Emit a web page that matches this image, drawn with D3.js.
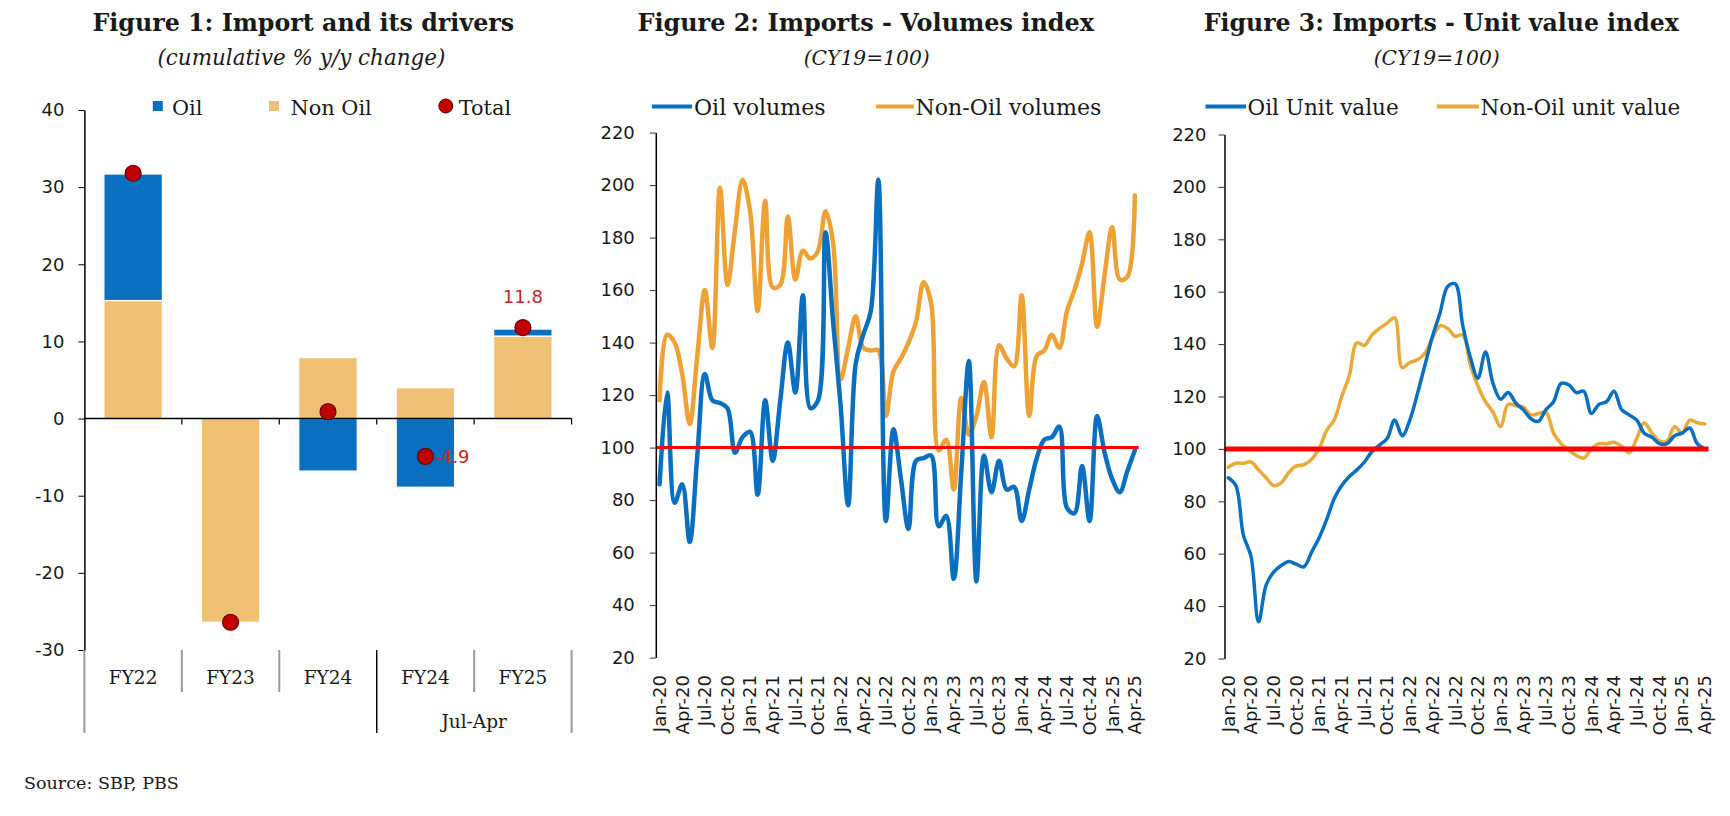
<!DOCTYPE html>
<html><head><meta charset="utf-8">
<script src="https://cdn.jsdelivr.net/npm/d3@7"></script>
<style>body{margin:0;background:#fff} svg{display:block}</style>
</head><body>
<svg id="c" width="1730" height="816"></svg>
<script>
// ---------------- DATA ----------------
const figureTitles = ["Figure 1: Import and its drivers", "Figure 2: Imports - Volumes index", "Figure 3: Imports - Unit value index"];
const figureSubtitles = ["(cumulative % y/y change)", "(CY19=100)", "(CY19=100)"];

const fig1Keys = ["FY22", "FY23", "FY24", "FY24 Jul-Apr", "FY25 Jul-Apr"];
const fig1Labels = ["FY22", "FY23", "FY24", "FY24", "FY25"];
const fig1GroupLabel = "Jul-Apr";
const fig1Oil = [16.4, 0.0, -6.8, -8.9, 0.9];
const fig1NonOil = [15.3, -26.4, 7.9, 4.0, 10.7];
const fig1Total = [31.8, -26.4, 0.9, -4.9, 11.8];
const fig1ShownLabels = [null, null, null, "-4.9", "11.8"];
const fig1Ticks = [-30, -20, -10, 0, 10, 20, 30, 40];
const fig1Legend = ["Oil", "Non Oil", "Total"];

const lineTicks = [20, 40, 60, 80, 100, 120, 140, 160, 180, 200, 220];
const monthTickLabels = ["Jan-20","Apr-20","Jul-20","Oct-20","Jan-21","Apr-21","Jul-21","Oct-21",
  "Jan-22","Apr-22","Jul-22","Oct-22","Jan-23","Apr-23","Jul-23","Oct-23",
  "Jan-24","Apr-24","Jul-24","Oct-24","Jan-25","Apr-25"];
const baseLevel = 100;

const fig2OilVolumes = [86,121,79,86,64,97,128,118,117,115, 98,104,106,82,118,95,118,140,121,158,
  115,118,182,148,116,78,132,143,152,202, 72,107,88,69,95,96,97,70,74,50,
  91,133,49,97,83,95,84,85,72,84, 96,103,104,108,77,75,93,72,112,98, 88,83,91,99];
const fig2NonOilVolumes = [118,143,140,128,109,135,160,138,199,162, 183,202,190,152,194,161,162,188,164,175,
  172,175,190,178,126,138,150,138,137,137, 112,129,134,140,148,163,155,99,103,84,
  119,105,112,125,104,139,134,131,158,112, 135,137,143,138,152,160,170,182,146,166, 184,164,165,196];
const fig2Legend = ["Oil volumes", "Non-Oil volumes"];

const fig3OilUnitValue = [89,86,67,59,34,48,53,55.5,57,56, 55,60.5,66,73,81,86,89.5,92,95,99,
  101.5,104,111,105,111,121,132,143,152,162, 163,147,135,127,137,125,119,121.5,117.5,115,
  111.5,110.5,115,118,125,124.5,121.5,122,113.5,117, 118,122,115,113,111,106,104.5,102,102,105, 106,108,102,100];
const fig3NonOilUnitValue = [93,94.5,94.5,95,92,89,86,87,91,93.5, 94,96,100,107,111,120,128,140.5,139.5,143.5,
  146,148,150,131,133,134,136.5,142.5,147,146, 143,143.5,132,124,118,114,108.5,117,116.5,116,
  113,113.5,114,106,102,99.5,97.5,96.5,100,102, 102,102.5,101,98.5,104,110,106,103,103,108.5, 106,111,110,109.5];
const fig3Legend = ["Oil Unit value", "Non-Oil unit value"];

const sourceText = "Source: SBP, PBS";

// ---------------- STYLE ----------------
const SERIF = "'DejaVu Serif', serif";
const SANS = "'DejaVu Sans', sans-serif";
const INK = "#1a1a1a";
const BLUE = "#0b6fc0";
const SAND = "#f0c074";
const ORANGE2 = "#eea236";
const ORANGE3 = "#e8aa38";
const DOT = "#c00000";
const LABELRED = "#c62828";

const months = d3.timeMonth.range(new Date(2020, 0, 1), new Date(2025, 4, 1)).map(d3.timeFormat("%b-%y"));

const svg = d3.select("#c");

function fitText(t, w) {
  t.attr("font-size", 20);
  const len = t.node().getComputedTextLength();
  const fs = 20 * w / len;
  t.attr("font-size", fs);
  return fs;
}

// ---------------- TITLES ----------------
const titleCx = [303.3, 865.7, 1441.3];
const titleW = [422, 457, 475];
const subCx = [301.4, 866.7, 1436.7];
const subW = [288, 126, 126];
figureTitles.forEach((t, i) => {
  const tt = svg.append("text").attr("x", titleCx[i]).attr("y", 31).attr("text-anchor", "middle")
    .attr("font-family", SERIF).attr("font-weight", "bold").attr("fill", INK).text(t);
  fitText(tt, titleW[i]);
  const st = svg.append("text").attr("x", subCx[i]).attr("y", 65).attr("text-anchor", "middle")
    .attr("font-family", SERIF).attr("font-style", "italic").attr("fill", INK).text(figureSubtitles[i]);
  fitText(st, subW[i]);
});

// ---------------- FIGURE 1 ----------------
const x1 = d3.scaleBand().domain(fig1Keys).range([84.4, 571.6]).paddingInner(0.4).paddingOuter(0.2);
const y1 = d3.scaleLinear().domain([-30, 40]).range([650, 110]);
const rows = fig1Keys.map((k, i) => ({ key: k, nonoil: fig1NonOil[i], oil: fig1Oil[i] }));
const stacked = d3.stack().keys(["nonoil", "oil"]).offset(d3.stackOffsetDiverging)(rows);
const colors1 = { nonoil: SAND, oil: BLUE };
const g1 = svg.append("g");
stacked.forEach(layer => {
  g1.selectAll(null).data(layer).join("rect")
    .attr("x", d => x1(d.data.key))
    .attr("width", x1.bandwidth())
    .attr("y", d => y1(Math.max(d[0], d[1])))
    .attr("height", d => Math.abs(y1(d[0]) - y1(d[1])))
    .attr("fill", colors1[layer.key])
    .attr("stroke", "#fff").attr("stroke-width", 1.2);
});
// y axis
const ya1 = svg.append("g").attr("transform", `translate(${x1.range()[0]},0)`)
  .call(d3.axisLeft(y1).tickValues(fig1Ticks).tickSize(6).tickSizeOuter(0).tickPadding(14).tickFormat(d => String(d)));
ya1.select(".domain").attr("stroke", "#000").attr("stroke-width", 1.5);
ya1.selectAll(".tick line").attr("stroke", "#000");
ya1.selectAll("text").attr("font-family", SANS).attr("font-size", 18).attr("fill", INK);
// zero line & ticks
const step1 = x1.step();
const x1r = x1.range();
svg.append("line").attr("x1", x1r[0]).attr("x2", x1r[1]).attr("y1", y1(0)).attr("y2", y1(0))
  .attr("stroke", "#000").attr("stroke-width", 1.5);
d3.range(1, fig1Keys.length + 1).forEach(i => {
  const bx = x1r[0] + i * step1;
  svg.append("line").attr("x1", bx).attr("x2", bx).attr("y1", y1(0)).attr("y2", y1(0) + 6)
    .attr("stroke", "#000").attr("stroke-width", 1.2);
});
// category separators below
d3.range(0, fig1Keys.length + 1).forEach(i => {
  const bx = x1r[0] + i * step1;
  const outer = (i === 0 || i === 3 || i === 5);
  svg.append("line").attr("x1", bx).attr("x2", bx).attr("y1", y1(-30)).attr("y2", outer ? 733 : 692)
    .attr("stroke", i === 3 ? "#000" : "#9a9a9a").attr("stroke-width", i === 3 ? 1.5 : 2);
});
// category labels
fig1Keys.forEach((k, i) => {
  svg.append("text").attr("x", x1(k) + x1.bandwidth() / 2).attr("y", 684).attr("text-anchor", "middle")
    .attr("font-family", SERIF).attr("font-size", 18.5).attr("fill", INK).text(fig1Labels[i]);
});
svg.append("text").attr("x", x1r[0] + 4 * step1).attr("y", 728).attr("text-anchor", "middle")
  .attr("font-family", SERIF).attr("font-size", 18.5).attr("fill", INK).text(fig1GroupLabel);
// total dots
fig1Keys.forEach((k, i) => {
  const cx = x1(k) + x1.bandwidth() / 2;
  svg.append("circle").attr("cx", cx).attr("cy", y1(fig1Total[i])).attr("r", 8)
    .attr("fill", DOT).attr("stroke", "#650000").attr("stroke-width", 1.2);
  const lab = fig1ShownLabels[i];
  if (lab) {
    if (fig1Total[i] < 0) {
      svg.append("text").attr("x", cx + 9).attr("y", y1(fig1Total[i])).attr("dy", "0.35em")
        .attr("font-family", SANS).attr("font-size", 18).attr("fill", LABELRED).text(lab);
    } else {
      svg.append("text").attr("x", cx).attr("y", y1(fig1Total[i]) - 24.5).attr("text-anchor", "middle")
        .attr("font-family", SANS).attr("font-size", 18).attr("fill", LABELRED).text(lab);
    }
  }
});
// legend fig 1
{
  const ly = 106;
  const t1 = svg.append("text").attr("x", 290.4).attr("y", 115).attr("font-family", SERIF).attr("fill", INK).text(fig1Legend[1]);
  const fs = fitText(t1, 81.4);
  svg.append("rect").attr("x", 152.8).attr("y", ly - 5).attr("width", 10).attr("height", 10).attr("fill", BLUE);
  svg.append("text").attr("x", 172).attr("y", 115).attr("font-family", SERIF).attr("font-size", fs).attr("fill", INK).text(fig1Legend[0]);
  svg.append("rect").attr("x", 269).attr("y", ly - 5).attr("width", 10).attr("height", 10).attr("fill", SAND);
  svg.append("circle").attr("cx", 445.8).attr("cy", ly).attr("r", 7).attr("fill", DOT).attr("stroke", "#650000").attr("stroke-width", 1);
  svg.append("text").attr("x", 458.7).attr("y", 115).attr("font-family", SERIF).attr("font-size", fs).attr("fill", INK).text(fig1Legend[2]);
}
// source
{
  const s = svg.append("text").attr("x", 24).attr("y", 789).attr("font-family", SERIF).attr("fill", INK).text(sourceText);
  fitText(s, 155);
}

// ---------------- LINE FIGURES ----------------
function lineFigure(opts) {
  const x = d3.scalePoint().domain(months).range(opts.xr).padding(0.5);
  const y = d3.scaleLinear().domain([20, 220]).range(opts.yr);
  const g = svg.append("g");
  const line = d3.line().x((d, i) => x(months[i])).y(d => y(d)).curve(d3.curveCatmullRom.alpha(0.5));
  g.append("path").datum(opts.s2).attr("d", line).attr("fill", "none").attr("stroke", opts.c2)
    .attr("stroke-width", opts.lw).attr("stroke-linejoin", "round").attr("stroke-linecap", "round");
  g.append("path").datum(opts.s1).attr("d", line).attr("fill", "none").attr("stroke", BLUE)
    .attr("stroke-width", opts.lw).attr("stroke-linejoin", "round").attr("stroke-linecap", "round");
  g.append("line").attr("x1", opts.xr[0]).attr("x2", opts.xr[1]).attr("y1", y(baseLevel)).attr("y2", y(baseLevel))
    .attr("stroke", "#ff0000").attr("stroke-width", opts.rw);
  const ya = svg.append("g").attr("transform", `translate(${opts.xr[0]},0)`)
    .call(d3.axisLeft(y).tickValues(lineTicks).tickSize(6).tickSizeOuter(0).tickPadding(opts.tp));
  ya.select(".domain").attr("stroke", "#000").attr("stroke-width", 1.5);
  ya.selectAll(".tick line").attr("stroke", "#333");
  ya.selectAll("text").attr("font-family", SANS).attr("font-size", 18).attr("fill", INK);
  monthTickLabels.forEach(m => {
    svg.append("text").attr("transform", `translate(${x(m)},675) rotate(-90)`).attr("dy", "0.35em")
      .attr("text-anchor", "end").attr("font-family", SANS).attr("font-size", 18).attr("fill", INK).text(m);
  });
  // legend
  const L = opts.legend;
  const t2 = svg.append("text").attr("x", L.t2).attr("y", 115).attr("font-family", SERIF).attr("fill", INK).text(opts.names[1]);
  const fs = fitText(t2, L.w2);
  svg.append("text").attr("x", L.t1).attr("y", 115).attr("font-family", SERIF).attr("font-size", fs).attr("fill", INK).text(opts.names[0]);
  svg.append("line").attr("x1", L.l1[0]).attr("x2", L.l1[1]).attr("y1", 106.5).attr("y2", 106.5).attr("stroke", BLUE).attr("stroke-width", 4);
  svg.append("line").attr("x1", L.l2[0]).attr("x2", L.l2[1]).attr("y1", 106.5).attr("y2", 106.5).attr("stroke", opts.c2).attr("stroke-width", 4);
}

lineFigure({
  xr: [655.8, 1138.6], yr: [657.6, 132.6], s1: fig2OilVolumes, s2: fig2NonOilVolumes, c2: ORANGE2,
  lw: 4.5, rw: 3, tp: 15, names: fig2Legend,
  legend: { l1: [652, 692], t1: 694, l2: [876, 914], t2: 915.5, w2: 186 }
});
lineFigure({
  xr: [1224.5, 1708.6], yr: [658.5, 134.5], s1: fig3OilUnitValue, s2: fig3NonOilUnitValue, c2: ORANGE3,
  lw: 3.5, rw: 5, tp: 12, names: fig3Legend,
  legend: { l1: [1205.5, 1246], t1: 1247.5, l2: [1436.7, 1479], t2: 1480.5, w2: 200 }
});
</script>
</body></html>
